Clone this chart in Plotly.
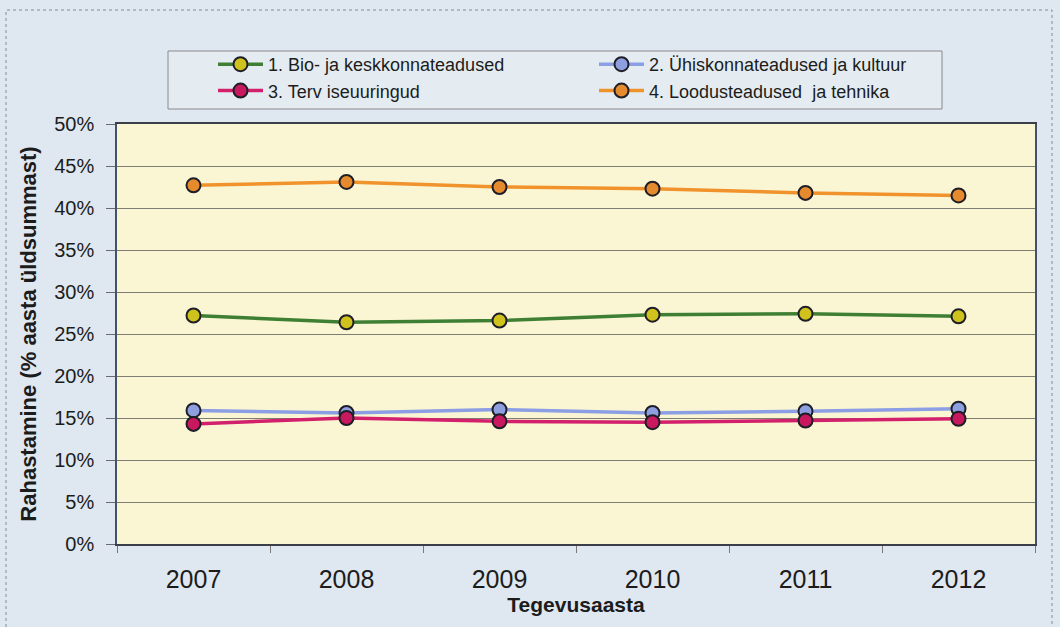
import plotly.graph_objects as go

# Funding share per research field, by year (% of the yearly total)
years = ["2007", "2008", "2009", "2010", "2011", "2012"]
series_names = [
    "1. Bio- ja keskkonnateadused",
    "2. Ühiskonnateadused ja kultuur",
    "3. Terv iseuuringud",
    "4. Loodusteadused  ja tehnika",
]
bio_env = [27.2, 26.4, 26.6, 27.3, 27.4, 27.1]
social_culture = [15.9, 15.6, 16.0, 15.6, 15.8, 16.1]
health = [14.3, 15.0, 14.6, 14.5, 14.7, 14.9]
natural_tech = [42.7, 43.1, 42.5, 42.3, 41.8, 41.5]

y_ticks = [0, 5, 10, 15, 20, 25, 30, 35, 40, 45, 50]
y_tick_labels = [f"{v}%" for v in y_ticks]

line_colors = ["#3f7f34", "#8c9ee4", "#d2206c", "#f0932c"]
marker_fills = ["#cfc21c", "#8e9fe0", "#c8185e", "#e58b2e"]
values = [bio_env, social_culture, health, natural_tech]

FONT = "Liberation Sans, Arial, sans-serif"

# plot area in pixels, used to place the frame and legend box in paper units
L, R, T, B = 117, 1035, 124, 544
W, H = R - L, B - T


def px_x(x):
    return (x - L) / W


def px_y(y):
    return (B - y) / H


fig = go.Figure()
for name, vals, lc, mf in zip(series_names, values, line_colors, marker_fills):
    fig.add_trace(go.Scatter(
        x=years, y=vals, name=name, mode="lines+markers",
        line=dict(color=lc, width=3.5),
        marker=dict(size=14, color=mf, line=dict(color="#1e1e28", width=2)),
    ))

fig.update_layout(
    width=1060, height=627,
    margin=dict(l=L, r=1060 - R, t=T, b=627 - B),
    paper_bgcolor="#dfe8f0",
    plot_bgcolor="#faf6d4",
    font=dict(family=FONT, color="#1c1c1c"),
    showlegend=True,
    legend=dict(
        orientation="h",
        x=px_x(213), y=px_y(46), xanchor="left", yanchor="top",
        bgcolor="rgba(0,0,0,0)", borderwidth=0,
        font=dict(size=18, family=FONT, color="#1c1c1c"),
        itemwidth=45,
        entrywidth=321, entrywidthmode="pixels",
        tracegroupgap=0,
    ),
    xaxis=dict(
        type="category", range=[-0.5, 5.5],
        showgrid=False, zeroline=False,
        showline=True, linecolor="#3a3f4a", linewidth=1.5, mirror=True,
        ticks="outside", tickson="boundaries", ticklen=7, tickcolor="#7a7a7a",
        tickfont=dict(size=25, family=FONT, color="#1c1c1c"),
        ticklabelstandoff=12,
        title=dict(text="<b>Tegevusaasta</b>", font=dict(size=21, family=FONT, color="#1c1c1c"), standoff=4),
    ),
    yaxis=dict(
        range=[0, 50], tickvals=y_ticks, ticktext=y_tick_labels,
        showgrid=True, gridcolor="#7d7d74", gridwidth=1,
        zeroline=False,
        showline=True, linecolor="#45506a", linewidth=1.5, mirror=True,
        ticks="outside", ticklen=9, tickcolor="#6a6a6a",
        tickfont=dict(size=20, family=FONT, color="#1c1c1c"),
        ticklabelstandoff=8,
        title=dict(text="<b>Rahastamine (% aasta üldsummast)</b>", font=dict(size=22, family=FONT, color="#1c1c1c"), standoff=12),
    ),
    shapes=[
        # dotted outer frame of the chart area
        dict(type="rect", xref="paper", yref="paper",
             x0=px_x(6), x1=px_x(1052), y0=px_y(640), y1=px_y(10),
             line=dict(color="#7f8c9c", width=1, dash="dot"), layer="below"),
        # legend box
        dict(type="rect", xref="paper", yref="paper",
             x0=px_x(168), x1=px_x(942), y0=px_y(109), y1=px_y(51),
             fillcolor="#e4ecf1", line=dict(color="#8a8a8a", width=1), layer="below"),
    ],
)

fig.write_html("out.html")
